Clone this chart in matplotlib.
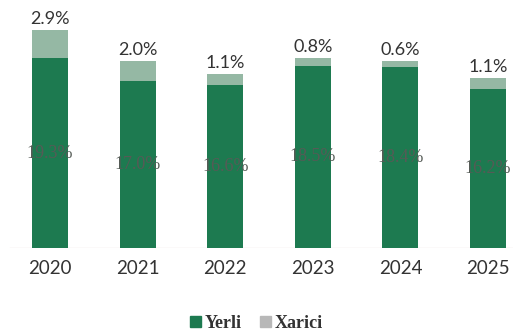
import matplotlib
matplotlib.use('Agg')
import matplotlib.pyplot as plt
import matplotlib.patches as mpatches
import numpy as np

# 年別の構成比（%）
years   = ["2020", "2021", "2022", "2023", "2024", "2025"]
yerli   = [19.3, 17.0, 16.6, 18.5, 18.4, 16.2]
xarici  = [2.9, 2.0, 1.1, 0.8, 0.6, 1.1]

C_YERLI  = '#1d7a50'
C_XARICI = '#95b8a4'
C_TEXT   = '#333333'

fig = plt.figure(figsize=(5.13, 3.36), dpi=100)
fig.patch.set_facecolor('white')
ax = fig.add_axes([0, 0.262, 1, 0.738])

x = np.arange(len(years))
bw = 0.41
ax.bar(x, yerli, bw, color=C_YERLI, label='Yerli', zorder=2)
ax.bar(x, xarici, bw, bottom=yerli, color=C_XARICI, label='Xarici', zorder=2)

# 棒の中の国内比率ラベル
for i, v in enumerate(yerli):
    ax.text(i, v / 2, f'{v:.1f}%', ha='center', va='center',
            color='#555b56', fontsize=13, family='Liberation Serif', zorder=3)

# 棒の上の海外比率ラベル
for i, (v, t) in enumerate(zip(xarici, yerli)):
    ax.annotate(f'{v:.1f}%', (i, v + t), textcoords='offset points', xytext=(0, 2),
                ha='center', va='bottom', color=C_TEXT, fontsize=13, family='Lato')

ax.axhline(0, color='#ece4e4', linewidth=1.0, zorder=1, xmin=0.02)

ax.set_xlim(-0.571, 5.285)
ax.set_ylim(0, 25.2)
for sp in ax.spines.values():
    sp.set_visible(False)
ax.set_yticks([])
ax.set_xticks(x)
ax.set_xticklabels(years, fontsize=13.5, color=C_TEXT, family='Lato')
ax.tick_params(axis='x', length=0, pad=9)

handles = [mpatches.Patch(color=C_YERLI, label='Yerli'),
           mpatches.Patch(color='#b8b8b8', label='Xarici')]
fig.legend(handles=handles, loc='center', bbox_to_anchor=(0.5, 0.038), ncol=2,
           frameon=False, prop={'family': 'Liberation Serif', 'size': 13, 'weight': 'bold'},
           handlelength=0.6, handleheight=0.6, handletextpad=0.2, columnspacing=1.0,
           labelcolor=C_TEXT)

plt.savefig('out.png', dpi=100, facecolor='white')
plt.close()
